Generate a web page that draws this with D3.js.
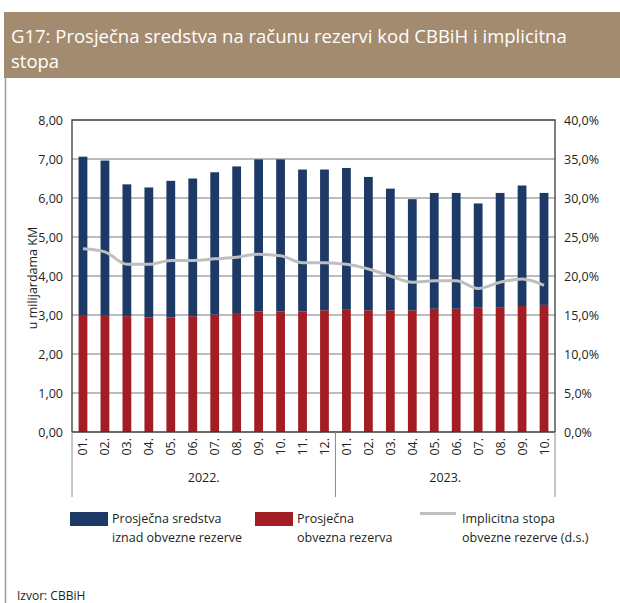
<!DOCTYPE html>
<html>
<head>
<meta charset="utf-8">
<script src="https://cdn.jsdelivr.net/npm/d3@7"></script>
<style>
  body { margin: 0; background: #fff; }
  svg text { font-family: "Open Sans", "Noto Sans", sans-serif; fill: #231f20; }
</style>
</head>
<body>
<div id="vis"></div>
<script>
// data
const months = ['01.', '02.', '03.', '04.', '05.', '06.', '07.', '08.', '09.', '10.', '11.', '12.',
                '01.', '02.', '03.', '04.', '05.', '06.', '07.', '08.', '09.', '10.']
const years = ['2022.', '2023.']
const yearOf = [0,0,0,0,0,0,0,0,0,0,0,0, 1,1,1,1,1,1,1,1,1,1]
// prosjecna obvezna rezerva (mlrd KM)
const reserve = [3.00, 3.00, 2.97, 2.94, 2.94, 2.97, 3.01, 3.05, 3.09, 3.09, 3.09, 3.12,
                 3.15, 3.12, 3.12, 3.12, 3.16, 3.16, 3.20, 3.20, 3.23, 3.26]
// sredstva iznad obvezne rezerve (mlrd KM)
const excess = [4.06, 3.96, 3.38, 3.33, 3.50, 3.53, 3.65, 3.76, 3.90, 3.90, 3.64, 3.61,
                3.62, 3.42, 3.12, 2.85, 2.97, 2.97, 2.66, 2.93, 3.09, 2.87]
// implicitna stopa (%)
const rate = [23.5, 23.1, 21.5, 21.5, 22.0, 22.0, 22.2, 22.4, 22.8, 22.6, 21.7, 21.7,
              21.5, 20.9, 20.0, 19.2, 19.4, 19.4, 18.4, 19.2, 19.6, 18.8]
const leftTicks = [0, 1, 2, 3, 4, 5, 6, 7, 8]
const rightTicks = [0, 5, 10, 15, 20, 25, 30, 35, 40]

const colors = { excess: '#1d3966', reserve: '#a31d24', rate: '#bfbfbf', header: '#a38b70' }

const W = 620, H = 603
const plot = { left: 72, right: 555, top: 120, bottom: 432 }

const svg = d3.select('#vis').append('svg')
    .attr('width', W)
    .attr('height', H)

// header band
svg.append('rect')
    .attr('x', 4).attr('y', 12)
    .attr('width', W - 4).attr('height', 66)
    .style('fill', colors.header)
svg.append('text')
    .attr('x', 11).attr('y', 43)
    .style('font-size', '18.5px')
    .style('fill', '#fff')
    .text('G17: Prosječna sredstva na računu rezervi kod CBBiH i implicitna')
svg.append('text')
    .attr('x', 11).attr('y', 68)
    .style('font-size', '18.5px')
    .style('fill', '#fff')
    .text('stopa')
// left frame line
svg.append('line')
    .attr('x1', 5.5).attr('x2', 5.5).attr('y1', 78).attr('y2', H)
    .style('stroke', '#9a9a9a').style('stroke-width', 1.5)

const idx = d3.range(months.length)
const xScale = d3.scaleBand()
    .domain(idx)
    .range([plot.left, plot.right])
    .paddingInner(0.6)
    .paddingOuter(0.3)
const yScale = d3.scaleLinear().domain([0, 8]).range([plot.bottom, plot.top])
const yRight = d3.scaleLinear().domain([0, 40]).range([plot.bottom, plot.top])

// grid
svg.selectAll('.grid')
    .data(leftTicks.slice(1, -1))
    .join('line')
    .attr('class', 'grid')
    .attr('x1', plot.left).attr('x2', plot.right)
    .attr('y1', d => yScale(d)).attr('y2', d => yScale(d))
    .style('stroke', '#a6a6a6').style('stroke-width', 1.3)

// stacked bars
svg.selectAll('.bar-res')
    .data(idx)
    .join('rect')
    .attr('class', 'bar-res')
    .attr('x', i => xScale(i))
    .attr('width', xScale.bandwidth())
    .attr('y', i => yScale(reserve[i]))
    .attr('height', i => yScale(0) - yScale(reserve[i]))
    .style('fill', colors.reserve)
svg.selectAll('.bar-exc')
    .data(idx)
    .join('rect')
    .attr('class', 'bar-exc')
    .attr('x', i => xScale(i))
    .attr('width', xScale.bandwidth())
    .attr('y', i => yScale(reserve[i] + excess[i]))
    .attr('height', i => yScale(reserve[i]) - yScale(reserve[i] + excess[i]))
    .style('fill', colors.excess)

// rate line
const line = d3.line()
    .x(i => xScale(i) + xScale.bandwidth() / 2)
    .y(i => yRight(rate[i]))
    .curve(d3.curveMonotoneX)
svg.append('path')
    .datum(idx)
    .attr('d', line)
    .style('fill', 'none')
    .style('stroke', colors.rate)
    .style('stroke-width', 3)

// frame
svg.append('path')
    .attr('d', `M${plot.left},${plot.bottom}V${plot.top}H${plot.right}V${plot.bottom}`)
    .style('fill', 'none').style('stroke', '#3a3a3a').style('stroke-width', 1.3)
svg.append('line')
    .attr('x1', plot.left).attr('x2', plot.right)
    .attr('y1', plot.bottom).attr('y2', plot.bottom)
    .style('stroke', '#3a3a3a').style('stroke-width', 1.5)

// axes labels
const fmtL = d3.format('.2f')
svg.selectAll('.ltick')
    .data(leftTicks)
    .join('text')
    .attr('x', 63)
    .attr('y', d => yScale(d) + 4.5)
    .attr('text-anchor', 'end')
    .style('font-size', '12.5px')
    .text(d => fmtL(d).replace('.', ','))
const fmtR = d3.format('.1f')
svg.selectAll('.rtick')
    .data(rightTicks)
    .join('text')
    .attr('x', 564)
    .attr('y', d => yRight(d) + 4.5)
    .style('font-size', '12.5px')
    .text(d => fmtR(d).replace('.', ',') + '%')

svg.append('text')
    .attr('transform', `translate(37,${(plot.top + plot.bottom) / 2 + 2}) rotate(-90)`)
    .attr('text-anchor', 'middle')
    .style('font-size', '12.5px')
    .text('u milijardama KM')

// month labels
svg.selectAll('.mlab')
    .data(idx)
    .join('text')
    .attr('transform', i => `translate(${xScale(i) + xScale.bandwidth() / 2 + 4.5},${plot.bottom + 6}) rotate(-90)`)
    .attr('text-anchor', 'end')
    .style('font-size', '12.5px')
    .text(i => months[i])

// year separators and labels
const step = xScale.step()
const seps = [0, 12, 22]
svg.selectAll('.sep')
    .data(seps)
    .join('line')
    .attr('x1', k => plot.left + k * (plot.right - plot.left) / months.length)
    .attr('x2', k => plot.left + k * (plot.right - plot.left) / months.length)
    .attr('y1', plot.bottom).attr('y2', 497)
    .style('stroke', '#8c8c8c').style('stroke-width', 1)
svg.selectAll('.ylab')
    .data(years)
    .join('text')
    .attr('x', (d, j) => {
        const ids = idx.filter(i => yearOf[i] === j)
        return (xScale(ids[0]) + xScale(ids[ids.length - 1]) + xScale.bandwidth()) / 2
    })
    .attr('y', 482)
    .attr('text-anchor', 'middle')
    .style('font-size', '12.5px')
    .text(d => d)

// legend
const legend = [
    { type: 'rect', color: colors.excess, x: 70, lines: ['Prosječna sredstva', 'iznad obvezne rezerve'] },
    { type: 'rect', color: colors.reserve, x: 255, lines: ['Prosječna', 'obvezna rezerva'] },
    { type: 'line', color: colors.rate, x: 420, lines: ['Implicitna stopa', 'obvezne rezerve (d.s.)'] }
]
legend.forEach(l => {
    if (l.type === 'rect') {
        svg.append('rect').attr('x', l.x).attr('y', 512).attr('width', 38).attr('height', 14).style('fill', l.color)
    } else {
        svg.append('line').attr('x1', l.x).attr('x2', l.x + 36).attr('y1', 513.5).attr('y2', 513.5)
            .style('stroke', l.color).style('stroke-width', 3)
    }
    l.lines.forEach((t, k) => {
        svg.append('text')
            .attr('x', l.x + 42)
            .attr('y', 523 + k * 18.5)
            .style('font-size', '12.5px')
            .text(t)
    })
})

svg.append('text')
    .attr('x', 17).attr('y', 600)
    .style('font-size', '12px')
    .text('Izvor: CBBiH')
</script>
</body>
</html>
